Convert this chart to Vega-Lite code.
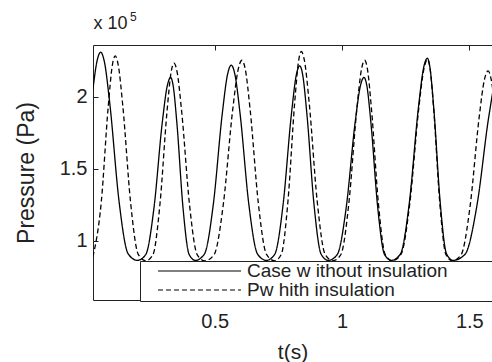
{
  "$schema": "https://vega.github.io/schema/vega-lite/v6.json",
  "width": 399,
  "height": 255,
  "autosize": {"type": "none"},
  "padding": {"left": 93, "top": 45, "right": 0, "bottom": 62},
  "background": "white",
  "title": {"text": "5", "anchor": "start", "frame": "group", "fontSize": 12, "fontWeight": "normal", "font": "Liberation Sans", "color": "#222", "offset": -10, "dx": 37},
  "config": {
    "font": "Liberation Sans",
    "view": {"stroke": "#222", "strokeWidth": 1},
    "axis": {"grid": false, "domainColor": "#222", "tickColor": "#222", "labelColor": "#222", "titleColor": "#222", "labelFont": "Liberation Sans", "titleFont": "Liberation Sans", "titleFontWeight": "normal"}
  },
  "datasets": {
    "curves": [
      {"t": 0.0216, "p": 2.05, "s": "Case w ithout insulation"},
      {"t": 0.038, "p": 2.25, "s": "Case w ithout insulation"},
      {"t": 0.052, "p": 2.31, "s": "Case w ithout insulation"},
      {"t": 0.0664, "p": 2.246, "s": "Case w ithout insulation"},
      {"t": 0.088, "p": 1.953, "s": "Case w ithout insulation"},
      {"t": 0.124, "p": 1.28, "s": "Case w ithout insulation"},
      {"t": 0.160, "p": 0.911, "s": "Case w ithout insulation"},
      {"t": 0.196, "p": 0.865, "s": "Case w ithout insulation"},
      {"t": 0.229, "p": 0.905, "s": "Case w ithout insulation"},
      {"t": 0.2615, "p": 1.23, "s": "Case w ithout insulation"},
      {"t": 0.294, "p": 1.821, "s": "Case w ithout insulation"},
      {"t": 0.314, "p": 2.079, "s": "Case w ithout insulation"},
      {"t": 0.327, "p": 2.135, "s": "Case w ithout insulation"},
      {"t": 0.3367, "p": 2.079, "s": "Case w ithout insulation"},
      {"t": 0.3513, "p": 1.821, "s": "Case w ithout insulation"},
      {"t": 0.3755, "p": 1.23, "s": "Case w ithout insulation"},
      {"t": 0.3998, "p": 0.905, "s": "Case w ithout insulation"},
      {"t": 0.424, "p": 0.865, "s": "Case w ithout insulation"},
      {"t": 0.4592, "p": 0.908, "s": "Case w ithout insulation"},
      {"t": 0.4945, "p": 1.254, "s": "Case w ithout insulation"},
      {"t": 0.5298, "p": 1.885, "s": "Case w ithout insulation"},
      {"t": 0.5509, "p": 2.16, "s": "Case w ithout insulation"},
      {"t": 0.565, "p": 2.22, "s": "Case w ithout insulation"},
      {"t": 0.5788, "p": 2.16, "s": "Case w ithout insulation"},
      {"t": 0.5995, "p": 1.885, "s": "Case w ithout insulation"},
      {"t": 0.634, "p": 1.254, "s": "Case w ithout insulation"},
      {"t": 0.6685, "p": 0.908, "s": "Case w ithout insulation"},
      {"t": 0.703, "p": 0.865, "s": "Case w ithout insulation"},
      {"t": 0.7357, "p": 0.9075, "s": "Case w ithout insulation"},
      {"t": 0.7685, "p": 1.252, "s": "Case w ithout insulation"},
      {"t": 0.8013, "p": 1.882, "s": "Case w ithout insulation"},
      {"t": 0.8209, "p": 2.156, "s": "Case w ithout insulation"},
      {"t": 0.834, "p": 2.215, "s": "Case w ithout insulation"},
      {"t": 0.8452, "p": 2.156, "s": "Case w ithout insulation"},
      {"t": 0.862, "p": 1.882, "s": "Case w ithout insulation"},
      {"t": 0.890, "p": 1.252, "s": "Case w ithout insulation"},
      {"t": 0.918, "p": 0.9075, "s": "Case w ithout insulation"},
      {"t": 0.946, "p": 0.865, "s": "Case w ithout insulation"},
      {"t": 0.9811, "p": 0.905, "s": "Case w ithout insulation"},
      {"t": 1.0163, "p": 1.23, "s": "Case w ithout insulation"},
      {"t": 1.0514, "p": 1.821, "s": "Case w ithout insulation"},
      {"t": 1.0725, "p": 2.079, "s": "Case w ithout insulation"},
      {"t": 1.0865, "p": 2.135, "s": "Case w ithout insulation"},
      {"t": 1.0973, "p": 2.079, "s": "Case w ithout insulation"},
      {"t": 1.1134, "p": 1.821, "s": "Case w ithout insulation"},
      {"t": 1.1403, "p": 1.23, "s": "Case w ithout insulation"},
      {"t": 1.1671, "p": 0.905, "s": "Case w ithout insulation"},
      {"t": 1.194, "p": 0.865, "s": "Case w ithout insulation"},
      {"t": 1.2292, "p": 0.909, "s": "Case w ithout insulation"},
      {"t": 1.2645, "p": 1.268, "s": "Case w ithout insulation"},
      {"t": 1.2998, "p": 1.9215, "s": "Case w ithout insulation"},
      {"t": 1.3209, "p": 2.206, "s": "Case w ithout insulation"},
      {"t": 1.335, "p": 2.268, "s": "Case w ithout insulation"},
      {"t": 1.3451, "p": 2.206, "s": "Case w ithout insulation"},
      {"t": 1.3603, "p": 1.9215, "s": "Case w ithout insulation"},
      {"t": 1.3855, "p": 1.268, "s": "Case w ithout insulation"},
      {"t": 1.4108, "p": 0.909, "s": "Case w ithout insulation"},
      {"t": 1.436, "p": 0.865, "s": "Case w ithout insulation"},
      {"t": 1.483, "p": 0.907, "s": "Case w ithout insulation"},
      {"t": 1.530, "p": 1.248, "s": "Case w ithout insulation"},
      {"t": 1.577, "p": 1.87, "s": "Case w ithout insulation"},
      {"t": 1.605, "p": 2.141, "s": "Case w ithout insulation"},
      {"t": 1.624, "p": 2.2, "s": "Case w ithout insulation"},
      {"t": 0.0216, "p": 0.89, "s": "Pw hith insulation"},
      {"t": 0.0545, "p": 1.27, "s": "Pw hith insulation"},
      {"t": 0.0818, "p": 1.933, "s": "Pw hith insulation"},
      {"t": 0.0981, "p": 2.221, "s": "Pw hith insulation"},
      {"t": 0.109, "p": 2.284, "s": "Pw hith insulation"},
      {"t": 0.1211, "p": 2.221, "s": "Pw hith insulation"},
      {"t": 0.1393, "p": 1.933, "s": "Pw hith insulation"},
      {"t": 0.1695, "p": 1.27, "s": "Pw hith insulation"},
      {"t": 0.1998, "p": 0.907, "s": "Pw hith insulation"},
      {"t": 0.230, "p": 0.862, "s": "Pw hith insulation"},
      {"t": 0.2575, "p": 0.905, "s": "Pw hith insulation"},
      {"t": 0.285, "p": 1.256, "s": "Pw hith insulation"},
      {"t": 0.3125, "p": 1.895, "s": "Pw hith insulation"},
      {"t": 0.329, "p": 2.174, "s": "Pw hith insulation"},
      {"t": 0.340, "p": 2.234, "s": "Pw hith insulation"},
      {"t": 0.3522, "p": 2.174, "s": "Pw hith insulation"},
      {"t": 0.3704, "p": 1.895, "s": "Pw hith insulation"},
      {"t": 0.4008, "p": 1.256, "s": "Pw hith insulation"},
      {"t": 0.4311, "p": 0.905, "s": "Pw hith insulation"},
      {"t": 0.4615, "p": 0.862, "s": "Pw hith insulation"},
      {"t": 0.4979, "p": 0.906, "s": "Pw hith insulation"},
      {"t": 0.5343, "p": 1.2615, "s": "Pw hith insulation"},
      {"t": 0.5706, "p": 1.91, "s": "Pw hith insulation"},
      {"t": 0.5925, "p": 2.193, "s": "Pw hith insulation"},
      {"t": 0.607, "p": 2.254, "s": "Pw hith insulation"},
      {"t": 0.6199, "p": 2.193, "s": "Pw hith insulation"},
      {"t": 0.6392, "p": 1.91, "s": "Pw hith insulation"},
      {"t": 0.6713, "p": 1.2615, "s": "Pw hith insulation"},
      {"t": 0.7035, "p": 0.906, "s": "Pw hith insulation"},
      {"t": 0.7356, "p": 0.862, "s": "Pw hith insulation"},
      {"t": 0.7617, "p": 0.908, "s": "Pw hith insulation"},
      {"t": 0.7878, "p": 1.279, "s": "Pw hith insulation"},
      {"t": 0.8139, "p": 1.956, "s": "Pw hith insulation"},
      {"t": 0.8296, "p": 2.251, "s": "Pw hith insulation"},
      {"t": 0.840, "p": 2.315, "s": "Pw hith insulation"},
      {"t": 0.8525, "p": 2.251, "s": "Pw hith insulation"},
      {"t": 0.8712, "p": 1.956, "s": "Pw hith insulation"},
      {"t": 0.9023, "p": 1.279, "s": "Pw hith insulation"},
      {"t": 0.9335, "p": 0.908, "s": "Pw hith insulation"},
      {"t": 0.9646, "p": 0.862, "s": "Pw hith insulation"},
      {"t": 0.9957, "p": 0.906, "s": "Pw hith insulation"},
      {"t": 1.0268, "p": 1.2615, "s": "Pw hith insulation"},
      {"t": 1.0579, "p": 1.91, "s": "Pw hith insulation"},
      {"t": 1.0766, "p": 2.193, "s": "Pw hith insulation"},
      {"t": 1.089, "p": 2.254, "s": "Pw hith insulation"},
      {"t": 1.0998, "p": 2.193, "s": "Pw hith insulation"},
      {"t": 1.1159, "p": 1.91, "s": "Pw hith insulation"},
      {"t": 1.1428, "p": 1.2615, "s": "Pw hith insulation"},
      {"t": 1.1696, "p": 0.906, "s": "Pw hith insulation"},
      {"t": 1.1965, "p": 0.862, "s": "Pw hith insulation"},
      {"t": 1.2314, "p": 0.906, "s": "Pw hith insulation"},
      {"t": 1.2663, "p": 1.263, "s": "Pw hith insulation"},
      {"t": 1.3011, "p": 1.915, "s": "Pw hith insulation"},
      {"t": 1.3221, "p": 2.198, "s": "Pw hith insulation"},
      {"t": 1.336, "p": 2.26, "s": "Pw hith insulation"},
      {"t": 1.3456, "p": 2.198, "s": "Pw hith insulation"},
      {"t": 1.360, "p": 1.915, "s": "Pw hith insulation"},
      {"t": 1.384, "p": 1.263, "s": "Pw hith insulation"},
      {"t": 1.408, "p": 0.906, "s": "Pw hith insulation"},
      {"t": 1.432, "p": 0.862, "s": "Pw hith insulation"},
      {"t": 1.4674, "p": 0.9035, "s": "Pw hith insulation"},
      {"t": 1.5029, "p": 1.24, "s": "Pw hith insulation"},
      {"t": 1.5383, "p": 1.854, "s": "Pw hith insulation"},
      {"t": 1.5595, "p": 2.122, "s": "Pw hith insulation"},
      {"t": 1.5737, "p": 2.18, "s": "Pw hith insulation"},
      {"t": 1.5857, "p": 2.122, "s": "Pw hith insulation"},
      {"t": 1.6037, "p": 1.854, "s": "Pw hith insulation"}
    ]
  },
  "data": {"name": "curves"},
  "resolve": {"axis": {"x": "independent"}},
  "layer": [
    {
      "mark": {"type": "line", "interpolate": "monotone", "color": "black", "strokeWidth": 1.3, "clip": true},
      "encoding": {
        "x": {"field": "t", "type": "quantitative",
          "scale": {"domain": [0.022, 1.589], "nice": false, "zero": false},
          "axis": {"orient": "bottom", "values": [0.5, 1, 1.5], "format": "~g", "tickSize": -5, "labelPadding": 16, "labelFontSize": 20, "domain": false,
            "title": "t(s)", "titleFontSize": 21, "titleY": 41, "titleBaseline": "top"}},
        "y": {"field": "p", "type": "quantitative",
          "scale": {"domain": [0.59, 2.36], "nice": false, "zero": false},
          "axis": {"values": [1, 1.5, 2], "format": "~g", "tickSize": -5, "labelPadding": 11, "labelFontSize": 20, "domain": false,
            "title": "Pressure (Pa)", "titleFontSize": 23, "titleX": -55, "titleY": 127.5, "titleAlign": "center", "titleBaseline": "bottom"}},
        "strokeDash": {"field": "s", "type": "nominal",
          "scale": {"domain": ["Case w ithout insulation", "Pw hith insulation"], "range": [[1, 0], [5, 3]]},
          "legend": {"orient": "none", "legendX": 47, "legendY": 216, "title": " ", "titleOrient": "right", "titlePadding": 45,
            "padding": 1, "strokeColor": "#222", "fillColor": "white", "cornerRadius": 0,
            "symbolType": "stroke", "symbolSize": 6889, "symbolStrokeWidth": 1.2, "symbolStrokeColor": "black", "symbolOffset": 16,
            "clipHeight": 18, "rowPadding": 0, "labelOffset": 5, "labelFontSize": 19, "labelColor": "#222", "labelFont": "Liberation Sans", "labelLimit": 400}}
      }
    },
    {
      "mark": {"type": "line", "opacity": 0},
      "encoding": {
        "x": {"field": "t", "type": "quantitative",
          "scale": {"domain": [0.022, 1.589], "nice": false, "zero": false},
          "axis": {"orient": "top", "values": [0.5, 1, 1.5], "labels": false, "tickSize": -5, "domain": false,
            "title": "x 10", "titleFontSize": 18, "titleX": 0, "titleY": -17, "titleAlign": "left", "titleAnchor": "start", "titleBaseline": "alphabetic"}}
      }
    }
  ]
}
